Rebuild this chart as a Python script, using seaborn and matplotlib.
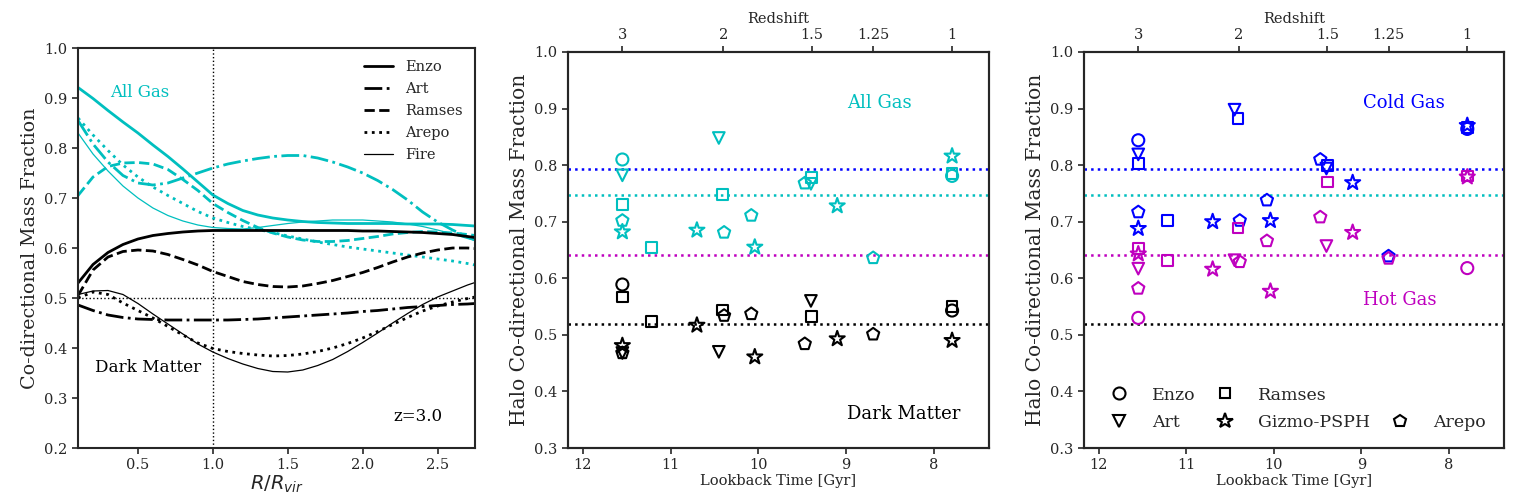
import numpy as np
import pandas as pd
import matplotlib
matplotlib.use("Agg")
import matplotlib.pyplot as plt
from matplotlib.lines import Line2D
import seaborn as sns

# ---------------- data: left panel, profiles at z=3 ----------------
r_over_rvir = [0.1, 0.2, 0.3, 0.4, 0.5, 0.6, 0.7, 0.8, 0.9, 1.0, 1.1, 1.2, 1.3, 1.4, 1.5, 1.6, 1.7, 1.8,
               1.9, 2.0, 2.1, 2.2, 2.3, 2.4, 2.5, 2.6, 2.7, 2.75]

gas_enzo = [0.921, 0.899, 0.875, 0.852, 0.830, 0.806, 0.783, 0.758, 0.732, 0.706, 0.689, 0.675, 0.666, 0.660,
            0.656, 0.653, 0.651, 0.650, 0.649, 0.649, 0.649, 0.649, 0.648, 0.648, 0.648, 0.647, 0.645, 0.644]
gas_art = [0.855, 0.808, 0.772, 0.745, 0.730, 0.726, 0.730, 0.740, 0.750, 0.760, 0.768, 0.774, 0.779, 0.783,
           0.785, 0.785, 0.780, 0.772, 0.762, 0.750, 0.735, 0.717, 0.696, 0.672, 0.652, 0.636, 0.622, 0.616]
gas_ramses = [0.705, 0.742, 0.763, 0.770, 0.771, 0.768, 0.757, 0.737, 0.715, 0.689, 0.671, 0.655, 0.641, 0.630,
              0.622, 0.616, 0.613, 0.613, 0.615, 0.619, 0.623, 0.628, 0.631, 0.633, 0.632, 0.630, 0.627, 0.625]
gas_arepo = [0.860, 0.826, 0.795, 0.766, 0.742, 0.722, 0.705, 0.689, 0.673, 0.660, 0.651, 0.643, 0.637, 0.631,
             0.624, 0.618, 0.612, 0.607, 0.602, 0.598, 0.594, 0.590, 0.586, 0.582, 0.578, 0.574, 0.569, 0.566]
gas_fire = [0.830, 0.788, 0.754, 0.724, 0.700, 0.680, 0.665, 0.654, 0.646, 0.641, 0.639, 0.638, 0.641, 0.645,
            0.649, 0.652, 0.654, 0.656, 0.656, 0.656, 0.654, 0.652, 0.648, 0.643, 0.636, 0.628, 0.619, 0.615]

dm_enzo = [0.530, 0.567, 0.591, 0.607, 0.618, 0.625, 0.629, 0.632, 0.634, 0.635, 0.635, 0.635, 0.635, 0.635,
           0.635, 0.635, 0.635, 0.635, 0.635, 0.634, 0.634, 0.633, 0.632, 0.631, 0.629, 0.627, 0.623, 0.621]
dm_art = [0.486, 0.475, 0.466, 0.461, 0.458, 0.457, 0.456, 0.456, 0.456, 0.456, 0.456, 0.457, 0.458, 0.460,
          0.462, 0.464, 0.466, 0.468, 0.470, 0.473, 0.475, 0.478, 0.481, 0.483, 0.485, 0.487, 0.488, 0.489]
dm_ramses = [0.505, 0.556, 0.582, 0.593, 0.596, 0.594, 0.587, 0.577, 0.566, 0.553, 0.543, 0.533, 0.527, 0.523,
             0.522, 0.524, 0.529, 0.535, 0.543, 0.551, 0.561, 0.572, 0.582, 0.590, 0.596, 0.600, 0.600, 0.599]
dm_arepo = [0.500, 0.512, 0.507, 0.490, 0.475, 0.460, 0.443, 0.426, 0.410, 0.399, 0.393, 0.389, 0.386, 0.384,
            0.385, 0.388, 0.393, 0.400, 0.409, 0.420, 0.433, 0.447, 0.461, 0.474, 0.484, 0.492, 0.499, 0.502]
dm_fire = [0.507, 0.514, 0.515, 0.507, 0.489, 0.468, 0.448, 0.428, 0.408, 0.392, 0.379, 0.368, 0.359, 0.353,
           0.352, 0.356, 0.365, 0.377, 0.393, 0.411, 0.430, 0.450, 0.469, 0.487, 0.502, 0.514, 0.526, 0.531]

# ---------------- data: halo fractions vs lookback time ----------------
codes = ["Enzo", "Art", "Ramses", "Gizmo-PSPH", "Arepo"]
t_lookback = {
    "Enzo": [11.55, 7.79],
    "Art": [11.55, 10.45, 9.40],
    "Ramses": [11.55, 11.22, 10.41, 9.39, 7.79],
    "Gizmo-PSPH": [11.55, 10.70, 10.04, 9.10, 7.79],
    "Arepo": [11.55, 10.39, 10.08, 9.47, 8.69],
}
allgas_frac = {
    "Enzo": [0.810, 0.781],
    "Art": [0.782, 0.848, 0.767],
    "Ramses": [0.730, 0.655, 0.748, 0.778, 0.785],
    "Gizmo-PSPH": [0.682, 0.685, 0.655, 0.728, 0.816],
    "Arepo": [0.702, 0.681, 0.711, 0.768, 0.636],
}
dm_frac = {
    "Enzo": [0.589, 0.543],
    "Art": [0.468, 0.470, 0.560],
    "Ramses": [0.567, 0.523, 0.544, 0.532, 0.550],
    "Gizmo-PSPH": [0.481, 0.517, 0.461, 0.493, 0.490],
    "Arepo": [0.468, 0.534, 0.537, 0.484, 0.501],
}
cold_frac = {
    "Enzo": [0.844, 0.864],
    "Art": [0.819, 0.898, 0.794],
    "Ramses": [0.803, 0.702, 0.882, 0.800, 0.866],
    "Gizmo-PSPH": [0.688, 0.700, 0.702, 0.769, 0.870],
    "Arepo": [0.717, 0.702, 0.738, 0.810, 0.639],
}
hot_frac = {
    "Enzo": [0.530, 0.618],
    "Art": [0.617, 0.632, 0.657],
    "Ramses": [0.652, 0.632, 0.689, 0.770, 0.781],
    "Gizmo-PSPH": [0.643, 0.616, 0.577, 0.681, 0.779],
    "Arepo": [0.582, 0.629, 0.666, 0.708, 0.635],
}
# mean levels (dotted horizontal lines)
mean_cold, mean_all, mean_hot, mean_dm = 0.794, 0.748, 0.642, 0.520

redshift_labels = ["3", "2", "1.5", "1.25", "1"]
redshift_lookback = [11.55, 10.40, 9.39, 8.69, 7.79]

markers = {"Enzo": "o", "Art": "v", "Ramses": "s", "Gizmo-PSPH": "*", "Arepo": "p"}
msize = {"Enzo": 75, "Art": 70, "Ramses": 60, "Gizmo-PSPH": 130, "Arepo": 85}

# ---------------- style ----------------
sns.set_style("ticks")
plt.rcParams["font.family"] = ["DejaVu Serif"]
plt.rcParams["mathtext.fontset"] = "dejavusans"
plt.rcParams["axes.linewidth"] = 1.5
plt.rcParams["xtick.major.width"] = 1.2
plt.rcParams["ytick.major.width"] = 1.2
plt.rcParams["xtick.major.size"] = 4
plt.rcParams["ytick.major.size"] = 4
plt.rcParams["xtick.labelsize"] = 10.5
plt.rcParams["ytick.labelsize"] = 10.5

fig = plt.figure(figsize=(15.24, 4.99), dpi=100)
ax1 = fig.add_axes([0.0512, 0.1022, 0.2605, 0.8016])
ax2 = fig.add_axes([0.3727, 0.1022, 0.2762, 0.7936])
ax3 = fig.add_axes([0.7113, 0.1022, 0.2756, 0.7936])

# ---------------- left panel ----------------
styles = {"Enzo": ("-", 2.0), "Art": ("-.", 2.0), "Ramses": ("--", 2.0),
          "Arepo": (":", 2.0), "Fire": ("-", 0.9)}
gas_curves = {"Enzo": gas_enzo, "Art": gas_art, "Ramses": gas_ramses, "Arepo": gas_arepo, "Fire": gas_fire}
dm_curves = {"Enzo": dm_enzo, "Art": dm_art, "Ramses": dm_ramses, "Arepo": dm_arepo, "Fire": dm_fire}

ax1.axvline(1.0, color="k", ls=":", lw=1.0)
ax1.axhline(0.5, color="k", ls=":", lw=1.0)
for name, vals in gas_curves.items():
    ls, lw = styles[name]
    sns.lineplot(x=r_over_rvir, y=vals, ax=ax1, color="c", linestyle=ls, lw=lw)
for name, vals in dm_curves.items():
    ls, lw = styles[name]
    sns.lineplot(x=r_over_rvir, y=vals, ax=ax1, color="k", linestyle=ls, lw=lw, label=name)

ax1.set_xlim(0.1, 2.75)
ax1.set_ylim(0.2, 1.0)
ax1.set_xticks([0.5, 1.0, 1.5, 2.0, 2.5])
ax1.set_yticks(np.arange(0.2, 1.01, 0.1))
ax1.set_xlabel(r"$R/R_{vir}$", fontsize=14, labelpad=1)
ax1.set_ylabel("Co-directional Mass Fraction", fontsize=13.7)
ax1.legend(loc="upper right", frameon=False, fontsize=10.5, handlelength=2.0,
           handletextpad=0.8, labelspacing=0.55, borderaxespad=0.45)
ax1.text(0.081, 0.888, "All Gas", color="c", fontsize=12, transform=ax1.transAxes, va="center")
ax1.text(0.043, 0.201, "Dark Matter", color="k", fontsize=12.2, transform=ax1.transAxes, va="center")
ax1.text(0.919, 0.078, "z=3.0", color="k", fontsize=12, transform=ax1.transAxes, va="center", ha="right")


# ---------------- middle / right panels ----------------
def plot_points(ax, frac, color):
    for c in codes:
        sns.scatterplot(x=t_lookback[c], y=frac[c], ax=ax, marker=markers[c], s=msize[c],
                        facecolor="none", edgecolor=color, linewidth=1.5, zorder=3)


def dress(ax):
    ax.axhline(mean_cold, color="b", ls=":", lw=1.8, zorder=1)
    ax.axhline(mean_all, color="c", ls=":", lw=1.8, zorder=1)
    ax.axhline(mean_hot, color="m", ls=":", lw=1.8, zorder=1)
    ax.axhline(mean_dm, color="k", ls=":", lw=1.8, zorder=1)
    ax.set_xlim(12.17, 7.37)
    ax.set_ylim(0.3, 1.0)
    ax.set_xticks([12, 11, 10, 9, 8])
    ax.set_yticks(np.arange(0.3, 1.01, 0.1))
    ax.set_xlabel("Lookback Time [Gyr]", fontsize=10.5, labelpad=1)
    ax.set_ylabel("Halo Co-directional Mass Fraction", fontsize=14.5)
    top = ax.twiny()
    top.set_xlim(ax.get_xlim())
    top.set_xticks(redshift_lookback)
    top.set_xticklabels(redshift_labels)
    top.set_xlabel("Redshift", fontsize=10.5, labelpad=3)
    top.tick_params(axis="x", labelsize=10.5, width=1.2, length=4)


dress(ax2)
plot_points(ax2, allgas_frac, "c")
plot_points(ax2, dm_frac, "k")
ax2.text(0.663, 0.872, "All Gas", color="c", fontsize=13, transform=ax2.transAxes, va="center")
ax2.text(0.663, 0.085, "Dark Matter", color="k", fontsize=13, transform=ax2.transAxes, va="center")

dress(ax3)
plot_points(ax3, cold_frac, "b")
plot_points(ax3, hot_frac, "m")
ax3.text(0.664, 0.872, "Cold Gas", color="b", fontsize=13, transform=ax3.transAxes, va="center")
ax3.text(0.664, 0.374, "Hot Gas", color="m", fontsize=13, transform=ax3.transAxes, va="center")

handles = []
labels = []
for c in ["Enzo", "Art", "Ramses", "Gizmo-PSPH"]:
    handles.append(Line2D([], [], ls="none", marker=markers[c], mfc="none", mec="k",
                          mew=1.5, ms=np.sqrt(msize[c])))
    labels.append(c)
handles.append(Line2D([], [], ls="none", marker=None))
labels.append("")
handles.append(Line2D([], [], ls="none", marker="p", mfc="none", mec="k", mew=1.5, ms=np.sqrt(msize["Arepo"])))
labels.append("Arepo")
ax3.legend(handles, labels, ncol=3, loc="lower left", bbox_to_anchor=(0.008, 0.008), frameon=False,
           fontsize=12.5, handletextpad=0.9, columnspacing=0.72, labelspacing=0.6, borderaxespad=0.4)

fig.savefig("out.png", dpi=100)
